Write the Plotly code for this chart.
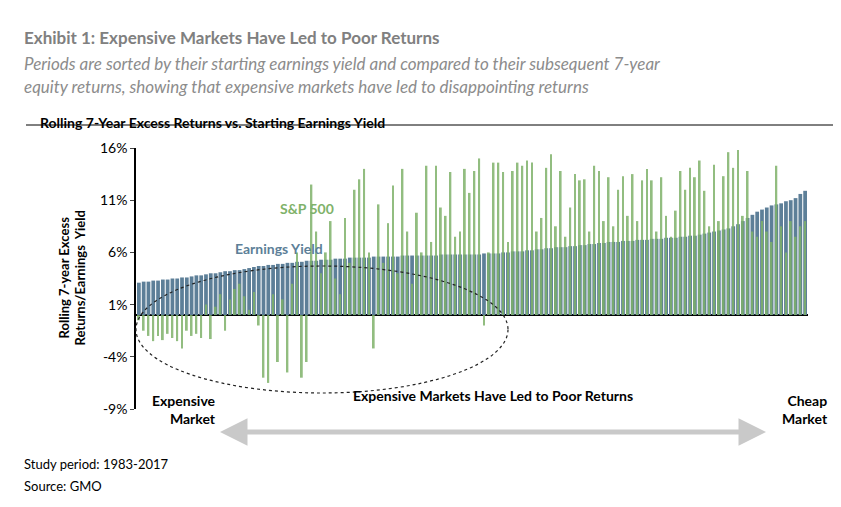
import plotly.graph_objects as go

earnings_yield = [
3.1,3.2,3.2,3.3,3.3,3.4,3.4,3.5,3.5,3.6,
3.6,3.7,3.8,3.8,3.9,4.0,4.0,4.1,4.2,4.2,
4.3,4.3,4.4,4.5,4.6,4.7,4.7,4.8,4.8,4.9,
4.9,5.0,5.0,5.1,5.1,5.2,5.2,5.2,5.3,5.3,
5.3,5.4,5.4,5.4,5.5,5.5,5.5,5.5,5.5,5.6,
5.6,5.6,5.6,5.6,5.6,5.7,5.7,5.7,5.7,5.7,
5.7,5.7,5.7,5.8,5.8,5.8,5.8,5.8,5.8,5.8,
5.8,5.8,5.9,5.9,5.9,5.9,6.0,6.0,6.1,6.1,
6.1,6.2,6.2,6.3,6.3,6.4,6.4,6.5,6.5,6.5,
6.6,6.6,6.7,6.7,6.8,6.8,6.9,6.9,7.0,7.0,
7.0,7.1,7.1,7.1,7.2,7.2,7.2,7.3,7.3,7.3,
7.4,7.4,7.4,7.5,7.5,7.6,7.6,7.7,7.8,7.9,
8.0,8.1,8.2,8.3,8.5,8.7,9.0,9.3,9.6,9.9,
10.1,10.3,10.5,10.6,10.7,10.9,11.0,11.2,11.6,11.9]

sp500 = [
-0.5,-1.5,-2.0,-2.5,-2.0,-2.4,-1.8,-2.2,-2.5,-3.2,
-1.5,-2.0,-1.8,-2.2,1.0,-2.3,0.8,2.0,-1.5,1.5,
2.5,3.0,1.8,0.5,2.2,-1.0,-6.0,-6.5,2.0,-4.5,
1.5,-5.5,3.0,6.0,-6.0,-4.5,12.5,8.0,4.0,6.0,
9.0,3.5,2.0,9.3,5.0,12.0,13.0,14.0,6.0,-3.2,
10.6,5.0,8.8,12.4,4.0,14.0,8.0,3.0,9.8,6.0,
14.3,7.0,14.3,10.3,9.5,13.7,7.5,8.0,14.0,11.7,
13.8,15.0,-1.0,6.0,14.6,14.6,13.7,7.0,13.8,14.6,
14.3,14.8,14.6,8.0,9.3,14.1,15.4,8.5,13.8,7.5,
10.3,13.5,12.9,13.0,8.0,14.3,13.8,9.0,13.2,8.5,
12.0,13.3,9.5,13.5,9.0,12.9,14.0,12.9,8.0,13.2,
9.5,7.5,10.0,13.8,12.0,14.1,13.2,14.8,11.9,8.5,
14.4,9.0,13.3,15.6,14.1,15.8,9.5,13.8,8.0,7.5,
9.0,8.0,7.0,14.3,8.5,6.0,9.0,7.5,8.5,9.0]

y_ticks = [-9, -4, 1, 6, 11, 16]
x = list(range(len(earnings_yield)))

W, H = 841, 507
L, R, T, B = 128, 800, 140, 401
def px(xp): return (xp - L) / (R - L)
def py(yp): return (B - yp) / (B - T)

fig = go.Figure()
fig.add_bar(x=x, y=earnings_yield, width=0.78, marker=dict(color="#5d7f98", line_width=0), name="Earnings Yield")
fig.add_bar(x=x, y=sp500, width=0.38, marker=dict(color="#7fb26a", line_width=0), opacity=0.85, name="S&P 500")

font = "Lato, 'Open Sans', sans-serif"
fig.update_layout(
    width=W, height=H, barmode="overlay", showlegend=False,
    plot_bgcolor="white", paper_bgcolor="white",
    margin=dict(l=L, r=W - R, t=T, b=H - B),
    font=dict(family=font, color="black"),
    xaxis=dict(range=[-0.6, len(x) - 0.4], showticklabels=False, showgrid=False, zeroline=False, showline=False),
    yaxis=dict(range=[-9, 16], tickvals=y_ticks, ticktext=[f"{v}%" for v in y_ticks],
               tickfont=dict(size=14), showgrid=False, zeroline=True, zerolinecolor="black", zerolinewidth=1.5,
               showline=True, linecolor="black", linewidth=1.5, ticks="outside", ticklen=4),
)

def ann(xp, yp, text, **kw):
    d = dict(x=px(xp), y=py(yp), xref="paper", yref="paper", text=text, showarrow=False)
    d.update(kw)
    fig.add_annotation(**d)

ann(14, 17, "<b>Exhibit 1: Expensive Markets Have Led to Poor Returns</b>", xanchor="left", font=dict(size=17, color="#808080"))
ann(14, 43, "<i>Periods are sorted by their starting earnings yield and compared to their subsequent 7-year</i>", xanchor="left", font=dict(size=17, color="#8c8c8c"))
ann(14, 66, "<i>equity returns, showing that expensive markets have led to disappointing returns</i>", xanchor="left", font=dict(size=17, color="#8c8c8c"))
ann(30, 104, "<b>Rolling 7-Year Excess Returns vs. Starting Earnings Yield</b>", xanchor="left", font=dict(size=14))
ann(270, 190, "<b>S&P 500</b>", font=dict(size=14, color="#7fb26a"))
ann(225, 240, "<b>Earnings Yield</b>", font=dict(size=14, color="#5d7f98"))
ann(45, 270, "<b>Rolling 7-year Excess<br>Returns/Earnings  Yield</b>", textangle=-90, font=dict(size=13))
ann(210, 421, "<b>Expensive<br>Market</b>", xanchor="right", align="right", font=dict(size=14))
ann(485, 398, "<b>Expensive Markets Have Led to Poor Returns</b>", font=dict(size=14))
ann(772, 421, "<b>Cheap<br>Market</b>", xanchor="left", align="right", font=dict(size=14))
ann(14, 466, "Study period: 1983-2017", xanchor="left", font=dict(size=13))
ann(14, 488, "Source: GMO", xanchor="left", font=dict(size=13))

# title underline
fig.add_shape(type="line", xref="paper", yref="paper", x0=px(18), x1=px(840), y0=py(117), y1=py(117), line=dict(color="black", width=1))
# ellipse
fig.add_shape(type="circle", xref="paper", yref="paper", x0=px(128), x1=px(500), y0=py(385), y1=py(258),
              line=dict(color="#222", width=1.2, dash="dot"))
# double arrow
fig.add_shape(type="line", xref="paper", yref="paper", x0=px(222), x1=px(748), y0=py(424), y1=py(424), line=dict(color="#c9c9c9", width=5))
for tip, tail in [(212, 240), (758, 730)]:
    fig.add_annotation(x=px(tip), y=py(424), ax=tail - tip, ay=0, xref="paper", yref="paper",
                       showarrow=True, arrowhead=2, arrowsize=1.1, arrowwidth=5, arrowcolor="#c9c9c9", text="")

fig.write_html("out.html")
